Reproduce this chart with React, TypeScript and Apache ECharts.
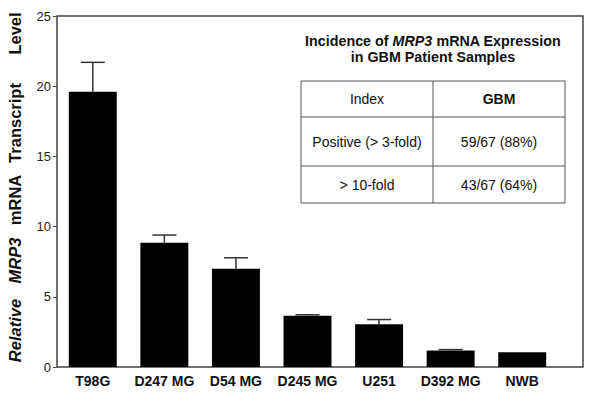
import React, { useEffect, useRef } from "react";
import * as echarts from "echarts";

const categories = ["T98G", "D247 MG", "D54 MG", "D245 MG", "U251", "D392 MG", "NWB"];
const values = [19.6, 8.85, 7.0, 3.65, 3.05, 1.17, 1.05];
const errorTops: (number | null)[] = [21.7, 9.4, 7.78, 3.72, 3.38, 1.24, null];
const yTickMin = 0;
const yTickMax = 25;
const yTickStep = 5;

const yTitleWords = ["Relative", "MRP3", "mRNA", "Transcript", "Level"];
const yTitleItalic = [true, true, false, false, false];

const tableTitle1 = ["Incidence of ", "MRP3", " mRNA Expression"];
const tableTitle2 = "in GBM Patient Samples";
const tableHeader = ["Index", "GBM"];
const tableRows = [
  ["Positive (> 3-fold)", "59/67 (88%)"],
  ["> 10-fold", "43/67 (64%)"],
];

const FONT = "'Liberation Sans', Arial, Helvetica, sans-serif";

export default function App() {
  const ref = useRef<HTMLDivElement>(null);
  useEffect(() => {
    if (!ref.current) return;
    const chart = echarts.init(ref.current, null, { renderer: "svg" });

    const gl = 57, gt = 16, gr = 583, gb = 367;
    const tL = 301, tR = 565, tM = 433, tT = 81, r1 = 117, r2 = 166, tB = 203;
    const lineStyle = { stroke: "#555", lineWidth: 1 };
    const wordCenters = [330.5, 260.5, 200, 123, 33.5];
    const cellFont = 14;

    const errorData = errorTops.map((t, i) => [i, values[i], t]);

    chart.setOption({
      animation: false,
      grid: { left: gl, top: gt, right: 600 - 558, bottom: 401 - gb, containLabel: false },
      xAxis: {
        type: "category",
        data: categories,
        axisLine: { show: false },
        axisTick: { show: false },
        axisLabel: {
          interval: 0,
          margin: 7,
          fontFamily: FONT,
          fontWeight: "bold",
          fontSize: 14,
          color: "#111",
        },
      },
      yAxis: {
        type: "value",
        min: yTickMin,
        max: yTickMax,
        interval: yTickStep,
        splitLine: { show: false },
        axisLine: { show: false },
        axisTick: { show: true, length: 4, lineStyle: { color: "#444", width: 1 } },
        axisLabel: { margin: 6, fontFamily: FONT, fontSize: 13, color: "#222" },
      },
      series: [
        {
          type: "bar",
          data: values,
          barWidth: "67%",
          itemStyle: { color: "#000" },
        },
        {
          type: "custom",
          data: errorData,
          z: 3,
          renderItem: (params: any, api: any) => {
            const top = api.value(2);
            if (top === null || top === undefined || isNaN(top)) return null;
            const base = api.coord([api.value(0), api.value(1)]);
            const hi = api.coord([api.value(0), top]);
            const hw = 12;
            const style = { stroke: "#333", lineWidth: 1.5 };
            return {
              type: "group",
              children: [
                { type: "line", shape: { x1: base[0], y1: base[1], x2: hi[0], y2: hi[1] }, style },
                { type: "line", shape: { x1: hi[0] - hw, y1: hi[1], x2: hi[0] + hw, y2: hi[1] }, style },
              ],
            };
          },
        },
      ],
      graphic: [
        {
          type: "rect",
          shape: { x: gl, y: gt, width: gr - gl, height: gb - gt },
          style: { fill: "none", stroke: "#444", lineWidth: 1.5 },
          silent: true,
        },
        ...yTitleWords.map((w, i) => ({
          type: "text",
          x: 15,
          y: wordCenters[i],
          rotation: Math.PI / 2,
          style: {
            text: w,
            font: `${yTitleItalic[i] ? "italic " : ""}bold 16.5px ${FONT}`,
            fill: "#111",
            textAlign: "center",
            textVerticalAlign: "middle",
          },
        })),
        {
          type: "text",
          x: tM,
          y: 41,
          style: {
            text: `{b|${tableTitle1[0]}}{bi|${tableTitle1[1]}}{b|${tableTitle1[2]}}`,
            textAlign: "center",
            textVerticalAlign: "middle",
            rich: {
              b: { font: `bold 14.3px ${FONT}`, fill: "#111" },
              bi: { font: `italic bold 14.3px ${FONT}`, fill: "#111" },
            },
          },
        },
        {
          type: "text",
          x: tM,
          y: 57,
          style: {
            text: tableTitle2,
            font: `bold 14.3px ${FONT}`,
            fill: "#111",
            textAlign: "center",
            textVerticalAlign: "middle",
          },
        },
        { type: "rect", shape: { x: tL, y: tT, width: tR - tL, height: tB - tT }, style: { ...lineStyle, fill: "#fff" } },
        { type: "line", shape: { x1: tL, y1: r1, x2: tR, y2: r1 }, style: lineStyle },
        { type: "line", shape: { x1: tL, y1: r2, x2: tR, y2: r2 }, style: lineStyle },
        { type: "line", shape: { x1: tM, y1: tT, x2: tM, y2: tB }, style: lineStyle },
        {
          type: "text",
          x: (tL + tM) / 2,
          y: (tT + r1) / 2,
          style: { text: tableHeader[0], font: `${cellFont}px ${FONT}`, fill: "#111", textAlign: "center", textVerticalAlign: "middle" },
        },
        {
          type: "text",
          x: (tM + tR) / 2,
          y: (tT + r1) / 2,
          style: { text: tableHeader[1], font: `bold ${cellFont}px ${FONT}`, fill: "#111", textAlign: "center", textVerticalAlign: "middle" },
        },
        ...tableRows.flatMap((row, ri) => {
          const yc = ri === 0 ? (r1 + r2) / 2 : (r2 + tB) / 2;
          return [
            {
              type: "text",
              x: (tL + tM) / 2,
              y: yc,
              style: { text: row[0], font: `${cellFont}px ${FONT}`, fill: "#111", textAlign: "center", textVerticalAlign: "middle" },
            },
            {
              type: "text",
              x: (tM + tR) / 2,
              y: yc,
              style: { text: row[1], font: `${cellFont}px ${FONT}`, fill: "#111", textAlign: "center", textVerticalAlign: "middle" },
            },
          ];
        }),
      ],
    });
    return () => chart.dispose();
  }, []);
  return (
    <div
      ref={ref}
      style={{ position: "absolute", left: 0, top: 0, width: 600, height: 401, background: "#fff" }}
    />
  );
}
